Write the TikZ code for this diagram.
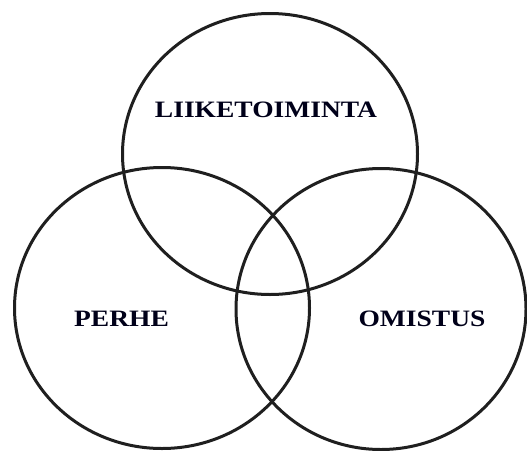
\documentclass[tikz,border=0pt]{standalone}
\usepackage{fontspec}
\setmainfont{Liberation Serif}[FakeStretch=1.17]
\usetikzlibrary{shapes.geometric}
\begin{document}
\begin{tikzpicture}[x=1pt,y=-1pt,
  venn/.style={ellipse, draw=black!88, line width=3pt, inner sep=0pt,
    minimum width=295pt, minimum height=281pt},
  label/.style={font=\fontsize{23.5}{28}\selectfont\bfseries, text=black!90!blue, inner sep=0pt}]
  \useasboundingbox (0,0) rectangle (527,450);
  % three overlapping sets
  \node[venn] (liike) at (270,154) {};
  \node[venn] (perhe) at (162,308) {};
  \node[venn, minimum width=290pt] (omistus) at (381,309) {};
  % set names
  \node[label] (tliike) at (266,110) {LIIKETOIMINTA};
  \node[label] (tperhe) at (121.5,319) {PERHE};
  \node[label] (tomistus) at (422,319) {OMISTUS};
\end{tikzpicture}
\end{document}
